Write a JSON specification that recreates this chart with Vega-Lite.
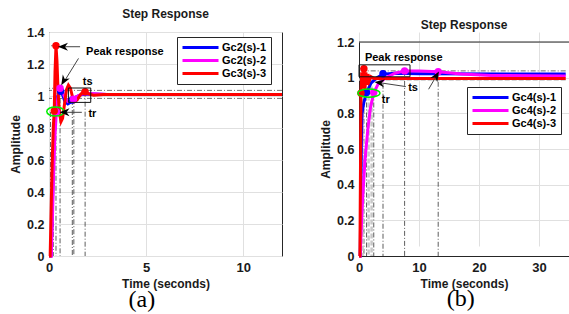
{
  "$schema": "https://vega.github.io/schema/vega-lite/v6.json",
  "padding": {"left": 9, "top": 7, "right": 0, "bottom": 0},
  "spacing": 30,
  "resolve": {"scale": {"color": "independent", "fill": "independent"}, "legend": {"color": "independent", "fill": "independent"}},
  "config": {
    "font": "Liberation Sans",
    "view": {"stroke": "#262626", "strokeWidth": 1},
    "axis": {
      "labelFont": "Liberation Sans", "labelFontWeight": "bold", "labelFontSize": 13, "labelColor": "#1a1a1a",
      "titleFont": "Liberation Sans", "titleFontWeight": "bold", "titleFontSize": 12, "titleColor": "#1a1a1a",
      "gridColor": "#e0e0e0", "ticks": false, "domain": false, "labelPadding": 5, "titlePadding": 4,
      "labelFlush": false, "labelBound": false, "labelOverlap": false
    },
    "title": {"font": "Liberation Sans", "fontSize": 12, "fontWeight": "bold", "color": "#1a1a1a"}
  },
  "datasets": {
    "aLines": [
      {"series": "Gc2(s)-1", "t": 0, "amp": 0}, {"series": "Gc2(s)-1", "t": 0.1, "amp": 0}, {"series": "Gc2(s)-1", "t": 0.15, "amp": 0.2}, {"series": "Gc2(s)-1", "t": 0.2, "amp": 0.45}, {"series": "Gc2(s)-1", "t": 0.25, "amp": 0.68}, {"series": "Gc2(s)-1", "t": 0.3, "amp": 0.84}, {"series": "Gc2(s)-1", "t": 0.36, "amp": 0.93}, {"series": "Gc2(s)-1", "t": 0.45, "amp": 1.0}, {"series": "Gc2(s)-1", "t": 0.55, "amp": 1.03}, {"series": "Gc2(s)-1", "t": 0.62, "amp": 1.03}, {"series": "Gc2(s)-1", "t": 0.72, "amp": 1.0}, {"series": "Gc2(s)-1", "t": 0.82, "amp": 0.965}, {"series": "Gc2(s)-1", "t": 0.97, "amp": 0.95}, {"series": "Gc2(s)-1", "t": 1.1, "amp": 0.96}, {"series": "Gc2(s)-1", "t": 1.2, "amp": 0.975}, {"series": "Gc2(s)-1", "t": 1.4, "amp": 0.995}, {"series": "Gc2(s)-1", "t": 1.7, "amp": 1.01}, {"series": "Gc2(s)-1", "t": 2.2, "amp": 1.012}, {"series": "Gc2(s)-1", "t": 3, "amp": 1.01}, {"series": "Gc2(s)-1", "t": 12, "amp": 1.01},
      {"series": "Gc2(s)-2", "t": 0, "amp": 0}, {"series": "Gc2(s)-2", "t": 0.12, "amp": 0}, {"series": "Gc2(s)-2", "t": 0.18, "amp": 0.25}, {"series": "Gc2(s)-2", "t": 0.24, "amp": 0.52}, {"series": "Gc2(s)-2", "t": 0.3, "amp": 0.74}, {"series": "Gc2(s)-2", "t": 0.38, "amp": 0.9}, {"series": "Gc2(s)-2", "t": 0.46, "amp": 0.99}, {"series": "Gc2(s)-2", "t": 0.57, "amp": 1.048}, {"series": "Gc2(s)-2", "t": 0.68, "amp": 1.03}, {"series": "Gc2(s)-2", "t": 0.82, "amp": 0.99}, {"series": "Gc2(s)-2", "t": 0.97, "amp": 0.965}, {"series": "Gc2(s)-2", "t": 1.1, "amp": 0.97}, {"series": "Gc2(s)-2", "t": 1.26, "amp": 0.98}, {"series": "Gc2(s)-2", "t": 1.45, "amp": 0.998}, {"series": "Gc2(s)-2", "t": 1.7, "amp": 1.012}, {"series": "Gc2(s)-2", "t": 2.1, "amp": 1.015}, {"series": "Gc2(s)-2", "t": 3, "amp": 1.01}, {"series": "Gc2(s)-2", "t": 12, "amp": 1.01},
      {"series": "Gc3(s)-3", "t": 0, "amp": 0}, {"series": "Gc3(s)-3", "t": 0.06, "amp": 0}, {"series": "Gc3(s)-3", "t": 0.12, "amp": 0.35}, {"series": "Gc3(s)-3", "t": 0.18, "amp": 0.65}, {"series": "Gc3(s)-3", "t": 0.22, "amp": 0.8}, {"series": "Gc3(s)-3", "t": 0.27, "amp": 0.906}, {"series": "Gc3(s)-3", "t": 0.31, "amp": 1.15}, {"series": "Gc3(s)-3", "t": 0.36, "amp": 1.314}, {"series": "Gc3(s)-3", "t": 0.41, "amp": 1.22}, {"series": "Gc3(s)-3", "t": 0.47, "amp": 1.02}, {"series": "Gc3(s)-3", "t": 0.54, "amp": 0.89}, {"series": "Gc3(s)-3", "t": 0.62, "amp": 0.84}, {"series": "Gc3(s)-3", "t": 0.7, "amp": 0.86}, {"series": "Gc3(s)-3", "t": 0.8, "amp": 0.95}, {"series": "Gc3(s)-3", "t": 0.9, "amp": 1.04}, {"series": "Gc3(s)-3", "t": 1.0, "amp": 1.068}, {"series": "Gc3(s)-3", "t": 1.1, "amp": 1.05}, {"series": "Gc3(s)-3", "t": 1.2, "amp": 1.0}, {"series": "Gc3(s)-3", "t": 1.32, "amp": 0.965}, {"series": "Gc3(s)-3", "t": 1.45, "amp": 0.975}, {"series": "Gc3(s)-3", "t": 1.6, "amp": 1.005}, {"series": "Gc3(s)-3", "t": 1.75, "amp": 1.025}, {"series": "Gc3(s)-3", "t": 1.86, "amp": 1.027}, {"series": "Gc3(s)-3", "t": 2.0, "amp": 1.015}, {"series": "Gc3(s)-3", "t": 2.3, "amp": 1.005}, {"series": "Gc3(s)-3", "t": 2.8, "amp": 1.01}, {"series": "Gc3(s)-3", "t": 12, "amp": 1.01}
    ],
    "aDots": [
      {"series": "Gc2(s)-1", "t": 0.36, "amp": 0.9}, {"series": "Gc2(s)-1", "t": 0.6, "amp": 1.03}, {"series": "Gc2(s)-1", "t": 1.2, "amp": 0.975},
      {"series": "Gc2(s)-2", "t": 0.38, "amp": 0.9}, {"series": "Gc2(s)-2", "t": 0.57, "amp": 1.048}, {"series": "Gc2(s)-2", "t": 1.26, "amp": 0.98},
      {"series": "Gc3(s)-3", "t": 0.27, "amp": 0.906}, {"series": "Gc3(s)-3", "t": 0.36, "amp": 1.314}, {"series": "Gc3(s)-3", "t": 1.86, "amp": 1.027}
    ],
    "aV": [
      {"t": 0.08, "amp": 0.9}, {"t": 0.22, "amp": 0.9}, {"t": 0.36, "amp": 1.314}, {"t": 0.57, "amp": 1.048}, {"t": 1.2, "amp": 0.975}, {"t": 1.28, "amp": 0.98}, {"t": 1.86, "amp": 1.027}
    ],
    "aH": [
      {"amp": 1.314, "t2": 0.36}, {"amp": 1.048, "t2": 0.57}, {"amp": 0.9, "t2": 0.38}, {"amp": 1.035, "t2": 12}, {"amp": 0.985, "t2": 12}
    ],
    "aBox": [{"t": 1.0, "t2": 2.15, "amp": 0.96, "amp2": 1.05}],
    "aText": [
      {"label": "Peak response", "t": 1.91, "amp": 1.275},
      {"label": "ts", "t": 1.74, "amp": 1.085},
      {"label": "tr", "t": 2.03, "amp": 0.886}
    ],
    "aArrows": [
      {"t": 1.6, "amp": 1.308, "t2": 0.72, "amp2": 1.308},
      {"t": 1.52, "amp": 1.235, "t2": 0.78, "amp2": 1.09},
      {"t": 1.69, "amp": 0.898, "t2": 0.8, "amp2": 0.898}
    ],
    "aHeads": [
      {"id": "left", "t": 0.72, "amp": 1.308},
      {"id": "down", "t": 0.76, "amp": 1.095},
      {"id": "left", "t": 0.8, "amp": 0.898}
    ],
    "aRing": [{"t": 0.33, "amp": 0.903}],
    "bLines": [
      {"series": "Gc4(s)-1", "t": 0, "amp": 0}, {"series": "Gc4(s)-1", "t": 0.2, "amp": 0}, {"series": "Gc4(s)-1", "t": 0.3, "amp": 0.3}, {"series": "Gc4(s)-1", "t": 0.4, "amp": 0.65}, {"series": "Gc4(s)-1", "t": 0.5, "amp": 0.8}, {"series": "Gc4(s)-1", "t": 0.8, "amp": 0.86}, {"series": "Gc4(s)-1", "t": 1.26, "amp": 0.915}, {"series": "Gc4(s)-1", "t": 2.0, "amp": 0.97}, {"series": "Gc4(s)-1", "t": 3.0, "amp": 1.0}, {"series": "Gc4(s)-1", "t": 4.0, "amp": 1.02}, {"series": "Gc4(s)-1", "t": 6, "amp": 1.025}, {"series": "Gc4(s)-1", "t": 10, "amp": 1.022}, {"series": "Gc4(s)-1", "t": 34.45, "amp": 1.02},
      {"series": "Gc4(s)-2", "t": 0, "amp": 0}, {"series": "Gc4(s)-2", "t": 0.2, "amp": 0}, {"series": "Gc4(s)-2", "t": 0.5, "amp": 0.26}, {"series": "Gc4(s)-2", "t": 1.0, "amp": 0.54}, {"series": "Gc4(s)-2", "t": 1.5, "amp": 0.72}, {"series": "Gc4(s)-2", "t": 1.9, "amp": 0.83}, {"series": "Gc4(s)-2", "t": 2.46, "amp": 0.915}, {"series": "Gc4(s)-2", "t": 3.2, "amp": 0.965}, {"series": "Gc4(s)-2", "t": 4.5, "amp": 1.0}, {"series": "Gc4(s)-2", "t": 6, "amp": 1.025}, {"series": "Gc4(s)-2", "t": 7.6, "amp": 1.038}, {"series": "Gc4(s)-2", "t": 10, "amp": 1.037}, {"series": "Gc4(s)-2", "t": 13.2, "amp": 1.033}, {"series": "Gc4(s)-2", "t": 17, "amp": 1.02}, {"series": "Gc4(s)-2", "t": 22, "amp": 1.012}, {"series": "Gc4(s)-2", "t": 34.45, "amp": 1.01},
      {"series": "Gc4(s)-3", "t": 0, "amp": 0}, {"series": "Gc4(s)-3", "t": 0.15, "amp": 0}, {"series": "Gc4(s)-3", "t": 0.33, "amp": 0.913}, {"series": "Gc4(s)-3", "t": 0.45, "amp": 1.03}, {"series": "Gc4(s)-3", "t": 0.6, "amp": 0.94}, {"series": "Gc4(s)-3", "t": 0.82, "amp": 1.05}, {"series": "Gc4(s)-3", "t": 1.0, "amp": 0.93}, {"series": "Gc4(s)-3", "t": 1.15, "amp": 1.03}, {"series": "Gc4(s)-3", "t": 1.3, "amp": 0.96}, {"series": "Gc4(s)-3", "t": 1.5, "amp": 1.02}, {"series": "Gc4(s)-3", "t": 1.7, "amp": 0.98}, {"series": "Gc4(s)-3", "t": 2.0, "amp": 1.005}, {"series": "Gc4(s)-3", "t": 2.5, "amp": 0.995}, {"series": "Gc4(s)-3", "t": 34.45, "amp": 0.995}
    ],
    "bDots": [
      {"series": "Gc4(s)-1", "t": 1.26, "amp": 0.917}, {"series": "Gc4(s)-1", "t": 4.0, "amp": 1.022},
      {"series": "Gc4(s)-2", "t": 2.46, "amp": 0.917}, {"series": "Gc4(s)-2", "t": 7.6, "amp": 1.038}, {"series": "Gc4(s)-2", "t": 13.2, "amp": 1.033},
      {"series": "Gc4(s)-3", "t": 0.33, "amp": 0.913}, {"series": "Gc4(s)-3", "t": 0.82, "amp": 1.05}
    ],
    "bV": [
      {"t": 0.33, "amp": 0.913}, {"t": 0.82, "amp": 1.05}, {"t": 1.26, "amp": 0.917}, {"t": 2.46, "amp": 0.917}, {"t": 4.0, "amp": 1.022}, {"t": 7.6, "amp": 1.038}, {"t": 13.2, "amp": 1.033}
    ],
    "bVgray": [{"t": 1.6, "amp": 0.9}, {"t": 2.1, "amp": 0.95}, {"t": 0.6, "amp": 1.0}],
    "bH": [{"amp": 1.038, "t2": 34.45}, {"amp": 1.05, "t2": 0.82}, {"amp": 0.913, "t2": 2.46}],
    "bHgray": [{"amp": 0.99, "t2": 34.45}],
    "bBox": [{"t": 0, "t2": 8.5, "amp": 1.005, "amp2": 1.072}],
    "bText": [
      {"label": "Peak response", "t": 0.98, "amp": 1.108},
      {"label": "ts", "t": 8.2, "amp": 0.94},
      {"label": "tr", "t": 3.8, "amp": 0.875}
    ],
    "bArrows": [
      {"t": 7.8, "amp": 0.95, "t2": 3.4, "amp2": 0.972},
      {"t": 11.6, "amp": 0.935, "t2": 12.9, "amp2": 1.01}
    ],
    "bHeads": [
      {"id": "h1", "t": 3.4, "amp": 0.972},
      {"id": "h2", "t": 12.9, "amp": 1.01}
    ],
    "bRing": [{"t": 1.65, "amp": 0.913}],
    "bTop": [{"amp": 1.2}]
  },
  "hconcat": [
    {
      "title": {"text": "(a)", "orient": "bottom", "anchor": "middle", "font": "Liberation Serif", "fontSize": 24, "fontWeight": "normal", "color": "black", "offset": -2, "dx": -7},
      "vconcat": [
        {
          "width": 233, "height": 224,
          "title": {"text": "Step Response", "offset": 5},
          "layer": [
            {
              "data": {"name": "aV"},
              "mark": {"type": "rule", "color": "#333333", "strokeWidth": 0.8, "strokeDash": [5, 2, 1, 2]},
              "encoding": {
                "x": {"field": "t", "type": "quantitative", "scale": {"domain": [0, 12]}, "axis": {"title": "Time (seconds)", "values": [0, 5, 10], "grid": true}},
                "y": {"field": "amp", "type": "quantitative", "scale": {"domain": [0, 1.4]}, "axis": {"title": "Amplitude", "values": [0, 0.2, 0.4, 0.6, 0.8, 1, 1.2, 1.4], "tickCount": 8, "labelExpr": "datum.value == 0 ? '0' : datum.value == 1 ? '1' : format(datum.value, '.1f')", "grid": true, "labelOverlap": false, "labelFontSize": 12.5}},
                "y2": {"datum": 0}
              }
            },
            {
              "data": {"name": "aH"},
              "mark": {"type": "rule", "color": "#555555", "strokeWidth": 0.8, "strokeDash": [5, 2, 1, 2]},
              "encoding": {
                "x": {"field": "t2", "type": "quantitative"},
                "x2": {"datum": 0},
                "y": {"field": "amp", "type": "quantitative"}
              }
            },
            {
              "data": {"name": "aLines"},
              "mark": {"type": "line", "strokeWidth": 3},
              "encoding": {
                "x": {"field": "t", "type": "quantitative"},
                "y": {"field": "amp", "type": "quantitative"},
                "color": {
                  "field": "series", "type": "nominal",
                  "scale": {"domain": ["Gc2(s)-1", "Gc2(s)-2", "Gc3(s)-3"], "range": ["#0000ff", "#ff00ff", "#ff0000"]},
                  "legend": {"orient": "none", "legendX": 128, "legendY": 5, "title": null, "symbolType": "M-3.6,0H3.6", "symbolSize": 100, "symbolStrokeWidth": 3, "symbolOffset": 13, "labelOffset": 15, "labelFont": "Liberation Sans", "labelFontWeight": "bold", "labelFontSize": 11, "labelColor": "black", "strokeColor": "#262626", "fillColor": "white", "padding": 4, "rowPadding": -2}
                }
              }
            },
            {
              "data": {"name": "aDots"},
              "mark": {"type": "point", "filled": true, "opacity": 1, "size": 55},
              "encoding": {
                "x": {"field": "t", "type": "quantitative"},
                "y": {"field": "amp", "type": "quantitative"},
                "fill": {"field": "series", "type": "nominal", "scale": {"domain": ["Gc2(s)-1", "Gc2(s)-2", "Gc3(s)-3"], "range": ["#0000ff", "#ff00ff", "#ff0000"]}, "legend": null}
              }
            },
            {
              "data": {"name": "aRing"},
              "mark": {"type": "point", "shape": "M-1,0A1,0.53,0,1,1,1,0A1,0.53,0,1,1,-1,0Z", "size": 300, "filled": false, "stroke": "#00ee00", "strokeWidth": 1.5, "opacity": 1},
              "encoding": {"x": {"field": "t", "type": "quantitative"}, "y": {"field": "amp", "type": "quantitative"}}
            },
            {
              "data": {"name": "aBox"},
              "mark": {"type": "rect", "fillOpacity": 0, "stroke": "#111111", "strokeWidth": 1},
              "encoding": {"x": {"field": "t", "type": "quantitative"}, "x2": {"field": "t2"}, "y": {"field": "amp", "type": "quantitative"}, "y2": {"field": "amp2"}}
            },
            {
              "data": {"name": "aArrows"},
              "mark": {"type": "rule", "color": "#444444", "strokeWidth": 1},
              "encoding": {"x": {"field": "t", "type": "quantitative"}, "x2": {"field": "t2"}, "y": {"field": "amp", "type": "quantitative"}, "y2": {"field": "amp2"}}
            },
            {
              "data": {"name": "aHeads"},
              "transform": [{"filter": "datum.id === 'left'"}],
              "mark": {"type": "point", "shape": "M-1,0L1,-0.8L0.4,0L1,0.8Z", "size": 100, "filled": true, "color": "black", "opacity": 1},
              "encoding": {"x": {"field": "t", "type": "quantitative"}, "y": {"field": "amp", "type": "quantitative"}}
            },
            {
              "data": {"name": "aHeads"},
              "transform": [{"filter": "datum.id === 'down'"}],
              "mark": {"type": "point", "shape": "M-1,0L1,-0.8L0.4,0L1,0.8Z", "size": 100, "filled": true, "color": "black", "opacity": 1, "angle": 300},
              "encoding": {"x": {"field": "t", "type": "quantitative"}, "y": {"field": "amp", "type": "quantitative"}}
            },
            {
              "data": {"name": "aText"},
              "mark": {"type": "text", "align": "left", "baseline": "middle", "font": "Liberation Sans", "fontWeight": "bold", "fontSize": 11, "color": "black"},
              "encoding": {"x": {"field": "t", "type": "quantitative"}, "y": {"field": "amp", "type": "quantitative"}, "text": {"field": "label", "type": "nominal"}}
            }
          ]
        }
      ]
    },
    {
      "title": {"text": "(b)", "orient": "bottom", "anchor": "middle", "font": "Liberation Serif", "fontSize": 24, "fontWeight": "normal", "color": "black", "offset": -2, "dx": 15},
      "vconcat": [
        {
          "width": 210, "height": 224,
          "view": {"stroke": null},
          "title": {"text": "Step Response", "offset": 0},
          "layer": [
            {
              "data": {"name": "bV"},
              "mark": {"type": "rule", "color": "#333333", "strokeWidth": 0.8, "strokeDash": [5, 2, 1, 2]},
              "encoding": {
                "x": {"field": "t", "type": "quantitative", "scale": {"domain": [0, 34.45]}, "axis": {"title": "Time (seconds)", "values": [0, 10, 20, 30], "grid": true, "domain": true, "domainColor": "#262626"}},
                "y": {"field": "amp", "type": "quantitative", "scale": {"domain": [0, 1.2], "range": [224, 10]}, "axis": {"title": "Amplitude", "values": [0, 0.2, 0.4, 0.6, 0.8, 1, 1.2], "tickCount": 7, "labelExpr": "datum.value == 0 ? '0' : datum.value == 1 ? '1' : format(datum.value, '.1f')", "grid": true, "domain": true, "domainColor": "#262626", "labelOverlap": false, "labelFontSize": 12.5}},
                "y2": {"datum": 0}
              }
            },
            {
              "data": {"name": "bVgray"},
              "mark": {"type": "rule", "color": "#c8c8c8", "strokeWidth": 2.5, "strokeDash": [5, 2]},
              "encoding": {"x": {"field": "t", "type": "quantitative"}, "y": {"field": "amp", "type": "quantitative"}, "y2": {"datum": 0}}
            },
            {
              "data": {"name": "bHgray"},
              "mark": {"type": "rule", "color": "#c8c8c8", "strokeWidth": 2.5, "strokeDash": [5, 2]},
              "encoding": {"x": {"field": "t2", "type": "quantitative"}, "x2": {"datum": 0}, "y": {"field": "amp", "type": "quantitative"}}
            },
            {
              "data": {"name": "bH"},
              "mark": {"type": "rule", "color": "#444444", "strokeWidth": 0.8, "strokeDash": [5, 2, 1, 2]},
              "encoding": {"x": {"field": "t2", "type": "quantitative"}, "x2": {"datum": 0}, "y": {"field": "amp", "type": "quantitative"}}
            },
            {
              "data": {"name": "bTop"},
              "mark": {"type": "rule", "color": "#262626", "strokeWidth": 1},
              "encoding": {"y": {"field": "amp", "type": "quantitative"}}
            },
            {
              "data": {"name": "bLines"},
              "mark": {"type": "line", "strokeWidth": 3},
              "encoding": {
                "x": {"field": "t", "type": "quantitative"},
                "y": {"field": "amp", "type": "quantitative"},
                "color": {
                  "field": "series", "type": "nominal",
                  "scale": {"domain": ["Gc4(s)-1", "Gc4(s)-2", "Gc4(s)-3"], "range": ["#0000ff", "#ff00ff", "#ff0000"]},
                  "legend": {"orient": "none", "legendX": 108, "legendY": 55, "title": null, "symbolType": "M-3.6,0H3.6", "symbolSize": 100, "symbolStrokeWidth": 3, "symbolOffset": 13, "labelOffset": 15, "labelFont": "Liberation Sans", "labelFontWeight": "bold", "labelFontSize": 11, "labelColor": "black", "strokeColor": "#262626", "fillColor": "white", "padding": 4, "rowPadding": -2}
                }
              }
            },
            {
              "data": {"name": "bDots"},
              "mark": {"type": "point", "filled": true, "opacity": 1, "size": 55},
              "encoding": {
                "x": {"field": "t", "type": "quantitative"},
                "y": {"field": "amp", "type": "quantitative"},
                "fill": {"field": "series", "type": "nominal", "scale": {"domain": ["Gc4(s)-1", "Gc4(s)-2", "Gc4(s)-3"], "range": ["#0000ff", "#ff00ff", "#ff0000"]}, "legend": null}
              }
            },
            {
              "data": {"name": "bRing"},
              "mark": {"type": "point", "shape": "M-1,0A1,0.37,0,1,1,1,0A1,0.37,0,1,1,-1,0Z", "size": 484, "filled": false, "stroke": "#00ee00", "strokeWidth": 1.5, "opacity": 1},
              "encoding": {"x": {"field": "t", "type": "quantitative"}, "y": {"field": "amp", "type": "quantitative"}}
            },
            {
              "data": {"name": "bBox"},
              "mark": {"type": "rect", "fillOpacity": 0, "stroke": "#111111", "strokeWidth": 1},
              "encoding": {"x": {"field": "t", "type": "quantitative"}, "x2": {"field": "t2"}, "y": {"field": "amp", "type": "quantitative"}, "y2": {"field": "amp2"}}
            },
            {
              "data": {"name": "bArrows"},
              "mark": {"type": "rule", "color": "#444444", "strokeWidth": 1},
              "encoding": {"x": {"field": "t", "type": "quantitative"}, "x2": {"field": "t2"}, "y": {"field": "amp", "type": "quantitative"}, "y2": {"field": "amp2"}}
            },
            {
              "data": {"name": "bHeads"},
              "transform": [{"filter": "datum.id === 'h1'"}],
              "mark": {"type": "point", "shape": "M-1,0L1,-0.8L0.4,0L1,0.8Z", "size": 100, "filled": true, "color": "black", "opacity": 1, "angle": 8},
              "encoding": {"x": {"field": "t", "type": "quantitative"}, "y": {"field": "amp", "type": "quantitative"}}
            },
            {
              "data": {"name": "bHeads"},
              "transform": [{"filter": "datum.id === 'h2'"}],
              "mark": {"type": "point", "shape": "M-1,0L1,-0.8L0.4,0L1,0.8Z", "size": 100, "filled": true, "color": "black", "opacity": 1, "angle": 121},
              "encoding": {"x": {"field": "t", "type": "quantitative"}, "y": {"field": "amp", "type": "quantitative"}}
            },
            {
              "data": {"name": "bText"},
              "mark": {"type": "text", "align": "left", "baseline": "middle", "font": "Liberation Sans", "fontWeight": "bold", "fontSize": 11, "color": "black"},
              "encoding": {"x": {"field": "t", "type": "quantitative"}, "y": {"field": "amp", "type": "quantitative"}, "text": {"field": "label", "type": "nominal"}}
            }
          ]
        }
      ]
    }
  ]
}
